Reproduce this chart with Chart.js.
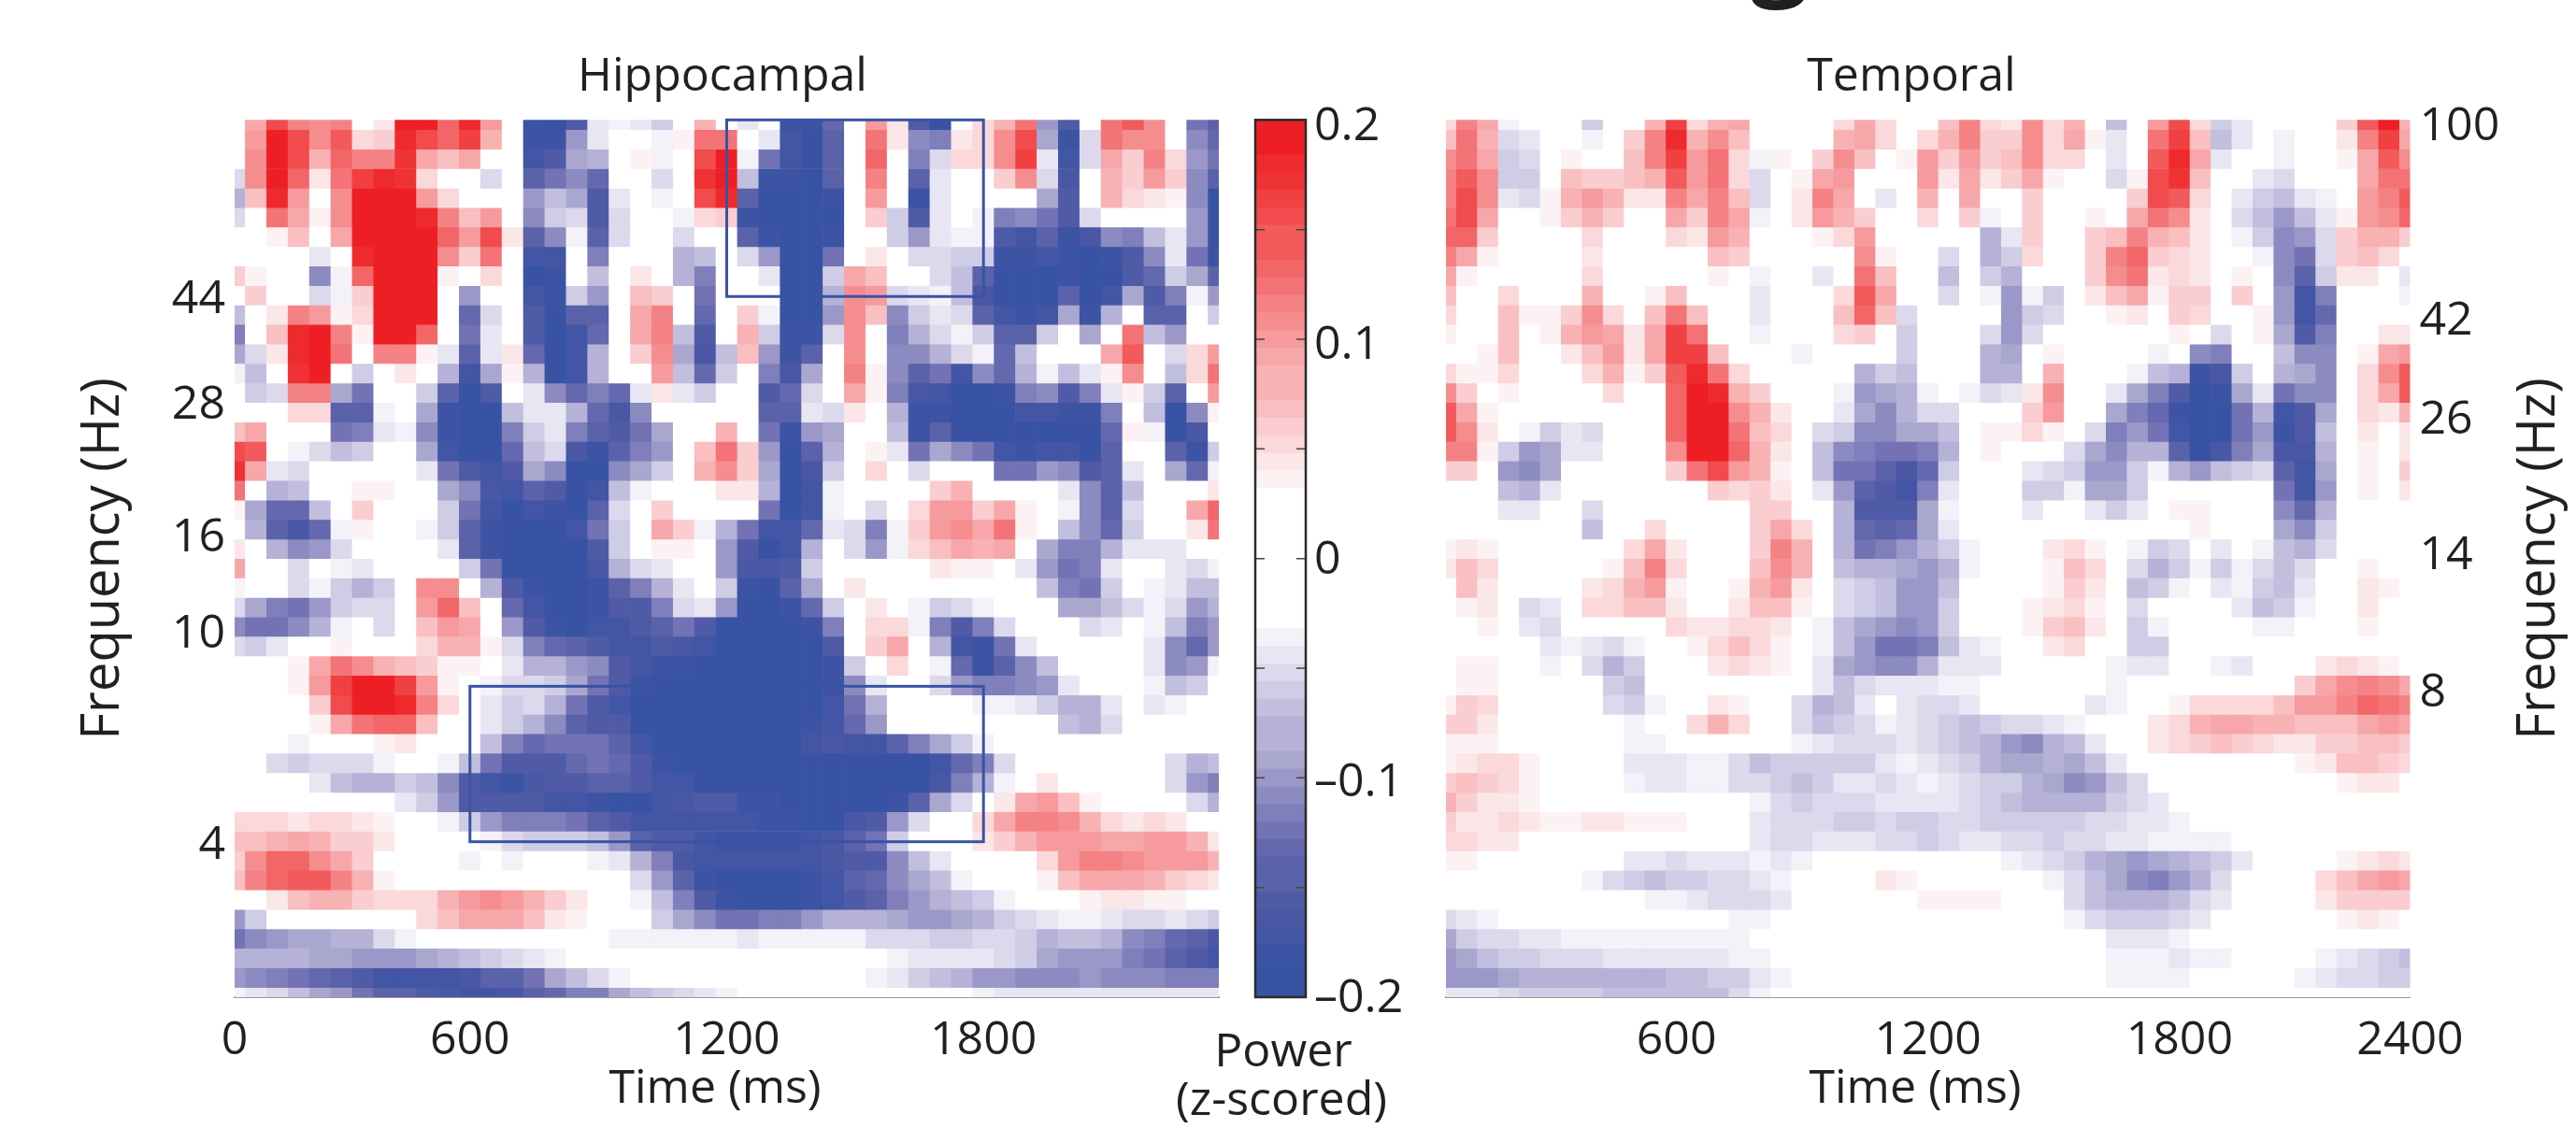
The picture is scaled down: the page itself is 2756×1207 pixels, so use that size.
<!DOCTYPE html>
<html><head><meta charset="utf-8">
<script src="https://cdn.jsdelivr.net/npm/chart.js@4/dist/chart.umd.min.js"></script>
<style>
html,body{margin:0;padding:0;background:#fff;width:2756px;height:1207px;overflow:hidden}
canvas{position:absolute;top:0}
#cut{position:absolute;left:1873px;top:-113px;font:bold 110px/110px "Open Sans";color:#231f20}
</style></head><body>
<div id="cut">g</div>
<canvas id="hip" width="1340" height="1207" style="left:0;width:1340px;height:1207px"></canvas>
<canvas id="tem" width="1256" height="1207" style="left:1500px;width:1256px;height:1207px"></canvas>
<canvas id="bar" width="290" height="1207" style="left:1240px;width:290px;height:1207px"></canvas>
<script>
// Time of each column (ms) and frequency of each row (Hz, top row first)
const timesMs = [50,100,150,200,250,300,350,400,450,500,550,600,650,700,750,800,850,900,950,1000,1050,1100,1150,1200,1250,1300,1350,1400,1450,1500,1550,1600,1650,1700,1750,1800,1850,1900,1950,2000,2050,2100,2150,2200,2250,2300,2350];
const frequenciesHz = [100,91.67,84.04,77.04,70.63,64.75,59.36,54.42,49.89,45.73,41.93,38.44,35.24,32.30,29.61,27.15,24.89,22.82,20.92,19.17,17.58,16.11,14.77,13.54,12.42,11.38,10.44,9.57,8.77,8.04,7.37,6.76,6.20,5.68,5.21,4.77,4.38,4.01,3.68,3.37,3.09,2.83,2.60,2.38,2.18,2.00];

// Power (z-scored x 100), top row first
const hippocampalPower = [
[0,9,16,12,11,12,0,4,20,20,14,19,10,0,-19,-20,-16,-4,-3,-4,-6,0,8,0,-4,0,-19,-19,-14,0,10,4,-16,-20,0,5,8,13,-10,-16,0,13,15,11,0,-13,-15],
[0,10,20,16,11,15,5,6,19,16,14,17,8,0,-19,-19,-10,-4,0,0,-3,3,13,13,0,-4,-18,-20,-15,0,13,4,-11,-12,4,5,11,16,-9,-19,-5,13,11,11,0,-11,-14],
[0,11,20,16,8,14,12,12,18,9,7,9,0,0,-18,-16,-9,-8,0,3,-3,0,16,20,-3,-13,-18,-20,-15,0,14,0,-12,-5,5,5,11,17,-4,-18,-5,9,6,12,5,-10,-13],
[-5,11,20,14,4,13,17,19,18,5,0,0,-5,0,-15,-13,-11,-14,0,0,-5,0,18,20,-7,-19,-19,-20,-15,0,12,0,-15,-4,0,0,6,11,-5,-17,0,8,6,10,6,-11,-15],
[-8,7,19,10,0,11,20,20,20,10,5,0,0,0,-10,-7,-9,-16,-4,0,-3,0,16,19,-15,-20,-20,-20,-19,0,10,0,-19,-4,0,0,0,0,-9,-16,0,8,5,4,3,-11,-20],
[-5,0,13,9,3,11,20,20,20,19,12,7,10,0,-11,-6,-5,-16,-5,0,0,-3,5,6,-19,-20,-20,-20,-20,0,6,-6,-16,-4,0,-3,-12,-11,-13,-16,-5,0,0,0,0,-10,-20],
[0,0,3,7,0,9,20,20,20,20,14,10,16,4,-15,-11,-3,-15,-5,0,0,-5,0,0,-15,-19,-20,-20,-19,0,0,-6,-10,-4,-3,-3,-16,-18,-15,-19,-17,-11,-12,-7,-4,-10,-20],
[0,0,0,0,-4,0,19,20,20,20,11,6,13,0,-18,-18,0,-12,0,0,0,-8,-7,0,-5,-10,-20,-20,-13,0,4,0,-5,-5,-6,-6,-19,-19,-18,-19,-20,-19,-16,-11,-4,-13,-19],
[6,3,0,0,-11,-3,14,20,20,20,3,0,5,0,-20,-19,0,-7,0,4,0,-8,-12,0,0,-4,-20,-20,-6,9,7,0,0,-5,-7,-15,-20,-20,-20,-19,-20,-20,-16,-14,-6,-9,-15],
[0,6,0,0,-5,-3,6,20,20,20,0,-10,0,0,-18,-19,-6,-10,0,7,6,0,-13,0,0,0,-20,-20,-8,11,10,-5,-4,-3,-7,-17,-20,-20,-20,-15,-20,-18,-9,-16,-12,-3,-10],
[-7,0,4,12,10,3,5,20,20,20,0,-14,-5,0,-16,-20,-15,-15,0,9,12,0,-14,0,6,-3,-20,-20,-10,11,7,-11,-6,-4,-5,-15,-18,-19,-18,-9,-19,-8,0,-15,-15,0,-6],
[-12,0,7,19,20,12,3,20,20,14,0,-13,-4,0,-16,-20,-18,-14,0,9,12,-7,-16,0,8,-6,-19,-19,-5,11,0,-12,-8,-5,-3,-6,-15,-15,-6,0,-9,0,13,-7,-10,0,0],
[-9,-5,4,19,20,13,0,12,12,3,-4,-15,-4,4,-14,-20,-18,-8,0,6,11,-9,-17,-7,7,-10,-19,-15,0,11,0,-11,-11,-8,-5,-3,-14,-7,0,0,0,9,15,0,-5,5,10],
[-3,-7,0,18,20,0,-6,0,4,0,-8,-18,-9,3,-8,-20,-18,-8,0,0,10,-7,-14,-6,0,-12,-17,-9,0,12,3,-11,-15,-13,-18,-11,-14,-8,-3,-7,-4,3,11,0,-7,5,13],
[0,-6,-5,12,12,-9,-13,0,0,-6,-15,-20,-16,0,-4,-11,-14,-12,-14,-4,4,-4,-6,0,0,-16,-14,-5,0,9,3,-12,-17,-18,-20,-20,-19,-12,-11,-16,-12,-4,3,-6,-15,0,10],
[0,0,0,5,5,-15,-15,-3,0,-9,-19,-20,-20,-7,-4,-4,-8,-14,-17,-11,0,0,0,0,0,-15,-15,-4,-5,4,0,-8,-19,-19,-20,-20,-20,-18,-18,-19,-19,-12,0,-7,-20,-11,3],
[7,9,0,0,0,-13,-12,-4,-3,-11,-19,-20,-20,-12,-6,-4,-12,-15,-16,-13,-9,0,0,8,0,-13,-19,-10,-9,0,0,-7,-19,-15,-20,-20,-20,-20,-20,-20,-20,-14,3,-3,-20,-17,0],
[16,15,0,-3,-5,-7,-6,0,0,-9,-18,-20,-20,-14,-7,-5,-17,-19,-15,-12,-10,0,7,13,6,-10,-20,-15,-8,0,3,-4,-13,-9,-11,-13,-18,-19,-18,-18,-20,-15,0,0,-15,-19,-6],
[18,9,-4,-5,0,0,0,0,0,-4,-13,-16,-18,-16,-9,-11,-20,-20,-11,-9,-6,0,8,11,6,-9,-20,-17,-6,0,5,0,-5,0,0,0,-13,-13,-10,-11,-16,-15,-4,0,-9,-14,-3],
[13,0,-8,-7,0,0,3,3,0,0,-9,-11,-17,-18,-15,-16,-20,-18,-7,-3,0,0,0,4,4,-8,-20,-18,-3,0,0,0,0,6,8,0,0,0,0,-4,-11,-15,-7,0,0,0,4],
[3,-9,-14,-14,-7,0,6,0,0,0,-6,-13,-18,-20,-18,-19,-20,-15,-5,0,6,0,0,0,0,-13,-20,-18,-3,0,-5,0,5,10,10,6,9,3,0,-3,-11,-15,-5,0,0,9,14],
[0,-8,-15,-17,-14,-3,3,0,0,-3,-6,-15,-19,-20,-20,-20,-18,-13,-6,0,9,6,-3,-8,-13,-18,-18,-14,-4,-5,-12,-3,6,10,11,9,13,3,0,-7,-11,-14,-6,0,0,4,13],
[4,0,-8,-11,-10,-5,0,0,0,0,-4,-15,-19,-20,-20,-20,-20,-16,-6,0,3,3,0,-10,-16,-20,-18,-8,0,-5,-10,-3,5,7,9,8,9,0,-9,-12,-12,-8,-4,-4,-4,0,0],
[9,0,0,-5,0,-3,-4,0,0,0,0,-6,-13,-20,-20,-20,-20,-17,-8,-5,-4,0,0,-10,-17,-17,-16,-6,0,0,0,0,0,4,3,3,0,-4,-10,-13,-12,-4,0,0,-4,-5,-3],
[3,0,0,-5,-3,-6,-8,-6,0,11,11,0,-8,-16,-19,-20,-20,-19,-15,-12,-8,-4,0,-6,-19,-20,-15,-9,0,4,0,0,0,0,0,0,0,0,-7,-12,-13,-6,0,-3,-4,-7,-7],
[-5,-9,-12,-13,-10,-6,-5,-5,0,10,14,7,0,-14,-18,-20,-20,-19,-16,-16,-12,-5,-4,-10,-20,-20,-19,-14,-6,0,4,0,-3,-6,-5,-3,0,0,0,-9,-9,-7,-5,-3,-5,-10,-8],
[-11,-13,-13,-11,-8,-3,0,-5,0,7,10,9,0,-10,-16,-19,-20,-18,-18,-16,-15,-13,-16,-20,-20,-20,-20,-19,-12,0,5,5,-3,-12,-16,-12,-5,0,0,0,-5,-4,0,-3,-7,-12,-10],
[-5,-6,-4,0,0,3,0,0,0,5,8,8,3,-5,-12,-14,-15,-16,-18,-18,-16,-17,-18,-20,-20,-20,-20,-20,-16,0,6,9,0,-8,-18,-19,-13,-4,0,0,0,0,0,-4,-11,-14,-10],
[0,0,0,3,9,13,11,8,7,6,3,3,0,-4,-8,-8,-10,-11,-16,-18,-19,-19,-20,-20,-20,-20,-20,-20,-19,-6,0,5,0,-3,-14,-19,-15,-11,-7,0,0,0,0,-4,-11,-10,-3],
[0,0,0,3,10,17,20,20,17,10,3,0,-3,-5,-5,-6,-9,-13,-16,-19,-20,-20,-20,-20,-20,-20,-20,-20,-19,-11,-4,0,0,-5,-10,-12,-12,-11,-10,-4,0,0,0,-3,-7,-6,0],
[0,0,0,0,6,16,20,20,19,12,5,0,-4,-6,-5,-8,-13,-16,-18,-20,-20,-20,-20,-20,-20,-20,-20,-20,-18,-13,-8,0,0,0,0,-3,-3,-4,-6,-8,-8,-4,0,-4,-3,0,0],
[0,0,0,0,3,9,13,14,14,7,0,0,-4,-6,-8,-11,-15,-16,-16,-20,-20,-20,-20,-20,-20,-20,-20,-19,-18,-14,-10,0,0,0,0,0,0,0,0,-7,-8,-5,0,0,0,0,0],
[0,0,0,-3,0,0,0,3,4,0,0,0,-7,-12,-14,-13,-13,-13,-15,-18,-20,-20,-20,-20,-20,-20,-20,-18,-17,-18,-18,-15,-12,-9,-6,-3,0,0,0,0,0,0,0,0,0,0,0],
[0,0,-5,-6,-5,-5,-5,-3,0,0,-3,-7,-13,-16,-16,-16,-14,-13,-14,-16,-19,-20,-20,-20,-20,-20,-20,-20,-20,-20,-20,-20,-20,-18,-14,-12,-5,0,0,0,0,0,0,0,-5,-8,-7],
[0,0,0,0,-4,-7,-8,-8,-6,-7,-11,-16,-18,-19,-17,-16,-16,-15,-15,-16,-18,-18,-20,-20,-20,-20,-20,-20,-20,-20,-20,-20,-20,-17,-12,-8,-3,0,4,0,0,0,0,0,-5,-10,-12],
[0,0,0,0,0,0,0,0,-4,-6,-10,-16,-16,-16,-16,-18,-18,-19,-20,-20,-18,-17,-16,-16,-19,-19,-20,-20,-20,-20,-20,-19,-15,-9,-5,0,4,9,10,7,3,0,0,0,0,-5,-8],
[5,5,5,4,5,5,4,3,0,0,-3,-6,-10,-12,-12,-12,-13,-15,-16,-18,-18,-18,-18,-18,-18,-19,-19,-20,-20,-17,-16,-10,-5,0,0,5,9,12,12,11,8,5,4,5,4,0,0],
[7,7,8,9,8,6,6,4,0,0,0,0,-3,-5,-6,-6,-6,-7,-10,-15,-16,-16,-18,-19,-19,-19,-19,-18,-17,-15,-13,-6,0,0,0,4,6,8,10,10,10,9,9,10,10,8,4],
[6,11,14,14,11,9,6,0,0,0,0,-3,0,-3,0,0,0,-3,-4,-8,-12,-17,-18,-18,-18,-18,-18,-18,-17,-16,-16,-11,-7,-4,0,0,0,0,5,10,12,12,11,10,10,10,8],
[7,12,14,15,15,12,8,3,0,0,0,0,0,0,0,0,0,0,0,-5,-10,-15,-19,-20,-20,-20,-20,-19,-18,-15,-14,-11,-9,-7,-3,0,0,0,3,7,9,9,9,8,6,5,4],
[0,0,4,7,8,8,6,5,5,5,8,10,11,10,8,6,4,0,0,-3,-7,-12,-16,-19,-20,-20,-20,-19,-18,-16,-15,-12,-10,-8,-7,-6,-3,0,0,0,3,4,4,3,3,0,0],
[-10,-6,0,0,0,0,0,0,0,5,7,9,9,9,7,4,3,0,0,0,-6,-9,-11,-13,-13,-12,-12,-10,-8,-8,-8,-9,-10,-10,-9,-8,-6,-5,-4,-3,-3,-4,-5,-5,-4,-5,-6],
[-13,-11,-10,-9,-9,-8,-8,-5,-3,0,0,0,0,0,0,0,0,0,-3,-3,-3,-3,-3,-3,-4,-3,-3,-3,-3,-3,-5,-5,-5,-6,-6,-5,-5,-6,-8,-7,-7,-8,-11,-12,-14,-15,-17],
[-8,-8,-8,-8,-9,-9,-10,-10,-10,-9,-8,-7,-6,-5,-4,-3,0,0,0,0,0,0,0,0,0,0,0,0,0,0,0,-3,-4,-4,-4,-4,-5,-6,-9,-10,-10,-10,-12,-13,-15,-16,-18],
[-10,-11,-12,-13,-14,-15,-16,-18,-18,-18,-18,-17,-15,-15,-13,-9,-7,-5,-3,0,0,0,0,0,0,0,0,0,0,0,-3,-4,-6,-7,-8,-10,-10,-11,-11,-11,-10,-11,-11,-11,-12,-12,-12],
[-3,-4,-5,-7,-9,-10,-13,-15,-15,-16,-17,-18,-18,-17,-15,-14,-12,-12,-9,-7,-6,-5,-4,-3,0,0,0,0,0,0,0,0,0,0,0,-3,-4,-4,-4,-4,-4,-4,-4,-4,-4,-4,-4]
];
const temporalPower = [
[5,12,9,-3,0,0,0,-6,0,0,8,17,5,8,9,0,0,0,0,5,9,5,0,0,7,12,5,4,11,5,8,0,-7,0,10,16,5,-6,-4,0,0,0,0,6,15,20,8],
[7,13,8,-5,-4,0,0,-3,0,6,12,19,8,11,7,0,0,0,0,8,9,5,0,5,8,12,6,6,11,5,9,3,-4,0,13,17,7,-7,-4,0,-3,0,0,4,12,17,9],
[11,13,9,-6,-5,0,3,0,0,7,12,17,10,13,5,-3,3,0,6,11,7,0,3,10,6,10,6,7,11,5,5,0,-4,0,15,19,9,-4,0,0,-3,0,0,3,9,15,11],
[12,15,11,-6,-6,0,7,6,6,7,8,15,10,13,5,-5,0,3,9,10,0,0,0,10,4,9,4,6,9,3,0,0,-5,3,16,18,7,0,0,-4,-5,0,0,0,9,13,13],
[12,16,11,-4,-5,3,8,10,8,4,4,12,9,12,7,-5,0,4,12,9,0,-4,0,8,0,9,0,0,6,0,0,0,0,6,16,15,5,0,-4,-6,-7,-4,-3,0,10,12,15],
[13,16,9,0,0,3,6,8,6,0,0,9,6,12,9,-3,0,4,10,8,6,0,0,5,0,6,-3,0,6,0,0,3,0,9,13,11,4,0,-5,-7,-10,-7,-4,3,10,11,14],
[14,14,6,0,0,0,0,5,0,0,0,5,4,10,8,0,0,0,3,5,10,0,0,0,0,0,-8,-4,6,0,0,6,7,12,8,7,4,0,-3,-6,-11,-10,-5,6,8,8,6],
[12,9,3,0,0,0,0,4,0,0,0,0,0,7,6,0,0,0,0,0,11,3,0,0,-5,0,-8,-6,5,0,0,6,12,14,6,5,4,0,0,-3,-11,-13,-5,6,7,5,0],
[9,3,0,0,0,0,0,5,0,0,0,0,0,3,0,-3,0,0,-4,0,13,7,0,0,-7,0,-6,-8,0,0,0,6,11,13,4,5,4,0,3,0,-11,-15,-6,4,4,0,-4],
[7,0,0,5,0,0,0,8,0,0,3,7,0,0,0,-4,0,0,0,5,15,9,0,0,-5,0,-3,-10,-3,-6,0,4,7,9,3,6,6,0,6,0,-10,-18,-12,0,0,0,-3],
[5,0,0,7,3,3,6,11,5,0,7,13,7,0,0,-4,0,0,0,7,14,7,-5,0,0,0,0,-10,-6,-5,0,0,3,4,0,6,5,0,0,3,-10,-18,-14,0,0,0,0],
[3,0,0,7,0,3,8,10,9,4,9,17,13,0,0,-3,0,0,0,5,6,0,-6,0,0,0,-5,-10,-5,0,0,0,0,0,0,3,0,-5,0,3,-9,-16,-12,0,0,4,4],
[0,0,3,7,0,0,4,7,10,4,9,17,17,7,0,0,0,-3,0,0,0,0,-6,0,0,0,-8,-9,0,3,0,0,0,0,-3,0,-11,-12,0,0,-7,-11,-11,0,3,9,10],
[5,3,3,5,0,0,0,5,8,3,6,15,19,13,5,0,0,0,0,0,-8,-6,-7,0,0,0,-8,-8,0,8,0,0,0,-3,-7,-8,-19,-17,-6,0,-8,-9,-11,0,5,11,15],
[11,6,0,3,0,0,0,0,5,0,0,14,20,19,8,6,0,0,0,-3,-10,-9,-8,-3,0,-3,-5,-4,4,11,0,0,-4,-9,-12,-16,-20,-19,-9,-4,-13,-11,-11,0,5,9,15],
[15,9,3,0,0,0,0,0,0,0,0,14,20,20,11,8,4,0,0,-4,-9,-11,-8,-5,-5,0,0,0,6,10,0,0,-9,-12,-14,-19,-20,-20,-13,-8,-18,-16,-9,0,5,4,8],
[15,11,4,0,-3,-6,-4,-5,0,0,0,14,20,20,13,7,5,0,-5,-6,-11,-11,-9,-9,-7,0,3,3,5,3,0,-5,-12,-10,-13,-18,-20,-20,-13,-10,-19,-16,-7,0,4,0,4],
[12,12,3,-6,-10,-9,-4,-4,0,0,0,11,20,20,14,8,4,0,-7,-11,-12,-13,-13,-12,-8,0,3,0,0,0,-5,-9,-11,-8,-8,-15,-20,-17,-12,-9,-17,-17,-8,0,3,0,4],
[6,6,0,-10,-11,-9,0,0,0,0,0,6,13,16,10,8,3,0,-7,-13,-13,-15,-17,-14,-6,0,0,0,-4,-5,-6,-10,-10,-6,-3,-8,-10,-7,-6,-5,-15,-18,-9,0,3,0,6],
[0,0,0,-7,-8,-4,0,0,0,0,0,0,0,6,5,6,4,0,-4,-10,-15,-16,-18,-12,-4,0,0,0,-6,-6,-3,-9,-9,-6,0,0,0,0,0,0,-13,-18,-10,0,3,0,4],
[0,0,0,-4,-4,0,0,-5,0,0,0,0,0,0,0,6,6,0,0,-8,-16,-16,-16,-9,-3,0,0,0,-4,0,0,-4,-6,-4,0,3,3,0,0,0,-11,-14,-8,0,0,0,0],
[0,0,0,0,0,0,0,-7,0,0,5,0,0,0,0,6,9,5,0,-8,-14,-15,-14,-9,-4,0,0,0,0,0,0,0,0,0,0,0,3,0,0,0,-9,-11,-6,0,0,0,0],
[3,4,3,0,0,0,0,0,0,5,9,4,0,0,0,6,12,8,0,-8,-13,-12,-10,-8,-6,-3,0,0,0,4,5,3,0,-3,-6,-5,0,-4,0,-3,-7,-8,-5,0,0,0,0],
[4,7,5,0,0,0,0,0,3,7,12,5,0,0,0,7,11,8,0,-7,-8,-8,-9,-10,-8,-3,0,0,0,3,7,5,0,-5,-8,-6,-3,-6,-3,-5,-7,-5,0,0,3,0,0],
[0,7,4,0,0,0,0,4,5,8,10,3,0,0,3,8,10,4,0,-5,-6,-7,-10,-10,-7,0,0,0,0,3,6,4,0,-7,-6,-3,0,-4,-3,-6,-7,-4,0,0,4,3,0],
[0,3,4,0,-5,-4,0,5,5,7,7,4,0,0,4,7,7,3,0,-5,-6,-7,-10,-10,-6,0,0,0,3,4,5,3,0,-5,0,0,0,0,-4,-7,-6,-3,0,0,4,0,0],
[0,0,3,0,-4,-5,0,0,0,0,0,5,4,4,5,5,4,0,-3,-7,-9,-10,-11,-10,-6,0,0,0,3,6,7,4,0,-6,-3,0,0,0,0,-3,-3,0,0,0,3,0,0],
[0,0,0,0,0,-4,-3,-4,-5,-3,0,0,3,5,7,5,3,0,-3,-7,-10,-13,-13,-12,-7,-4,-3,0,0,4,5,0,0,-6,-6,0,0,0,0,0,0,0,0,0,0,0,0],
[0,3,3,0,0,-3,0,-5,-8,-6,0,0,0,4,5,4,3,0,-4,-9,-10,-11,-11,-8,-4,-4,-4,0,0,0,0,0,-3,-4,-4,0,0,-3,-4,0,0,0,4,5,4,3,0],
[0,3,3,0,0,0,0,0,-6,-7,0,0,0,0,0,0,0,0,-4,-7,-5,-4,-4,-4,-3,-3,0,0,0,0,0,0,-3,0,0,0,0,0,0,0,0,6,9,11,12,11,9],
[3,6,5,0,0,0,0,0,-5,-6,-3,0,0,4,3,0,0,-5,-8,-7,-4,0,-4,-5,-5,-4,0,0,0,0,0,-4,-3,0,0,3,5,5,5,5,7,10,10,12,14,13,12],
[6,6,4,0,0,0,0,0,0,-3,0,0,5,8,5,0,0,-5,-7,-6,-5,-3,-4,-5,-6,-7,-6,-5,-5,-4,-3,0,0,0,4,5,8,9,9,8,8,7,7,7,9,10,9],
[3,3,3,0,0,0,0,0,0,-3,-3,0,0,0,0,0,0,-3,-4,-5,-5,-5,-4,-5,-6,-7,-8,-10,-11,-8,-7,-4,0,0,4,5,6,7,6,5,4,4,6,6,7,7,6],
[3,4,5,5,3,0,0,0,0,-4,-4,-4,-3,-3,-5,-7,-6,-6,-6,-6,-6,-4,-3,-4,-5,-6,-8,-9,-9,-8,-9,-7,-4,0,0,0,0,0,0,0,0,3,4,7,7,6,5],
[6,7,6,5,3,0,0,0,0,-3,-4,-4,-3,-3,-5,-5,-6,-7,-6,-4,-4,-5,-4,-3,-4,-5,-6,-6,-8,-9,-11,-10,-7,-5,0,0,0,0,0,0,0,0,0,3,4,4,0],
[8,6,4,4,3,0,0,0,0,0,0,0,0,0,0,-3,-5,-6,-5,-5,-5,-4,-4,-4,-4,-5,-6,-7,-8,-8,-8,-8,-6,-5,-4,0,0,0,0,0,0,0,0,0,0,0,0],
[6,4,4,5,4,3,3,4,4,3,3,3,0,0,0,-4,-5,-5,-5,-6,-6,-5,-6,-6,-5,-5,-6,-6,-6,-6,-6,-5,-5,-4,-4,-3,0,0,0,0,0,0,0,0,0,0,0],
[5,5,4,4,0,0,0,0,0,0,0,0,0,0,0,-4,-5,-5,-4,-4,-4,-5,-5,-6,-5,-4,-4,-5,-5,-6,-5,-5,-4,-4,-3,-3,-3,-3,0,0,0,0,0,0,0,0,0],
[3,3,0,0,0,0,0,0,0,-4,-4,-5,-4,-4,-4,-3,-4,-3,0,0,0,0,0,0,0,0,0,-3,-4,-5,-6,-8,-9,-10,-9,-8,-7,-6,-4,0,0,0,0,3,4,5,4],
[0,0,0,0,0,0,0,-3,-5,-6,-7,-6,-6,-5,-5,-4,-3,0,0,0,0,4,3,0,0,0,0,0,0,-3,-5,-7,-9,-11,-12,-10,-8,-5,0,0,0,0,5,7,9,10,9],
[0,0,0,0,0,0,0,0,0,0,-3,-3,-4,-5,-5,-5,-4,0,0,0,0,0,0,3,3,3,3,0,0,0,-5,-7,-8,-8,-8,-7,-5,-4,0,0,0,0,4,6,6,6,6],
[-5,-4,-3,0,0,0,0,0,0,0,0,0,0,0,-3,-3,0,0,0,0,0,0,0,0,0,0,0,0,0,0,-3,-5,-6,-6,-6,-5,-4,0,0,0,0,0,0,3,4,3,0],
[-9,-6,-5,-5,-4,-4,-3,-3,-3,-3,-3,-3,-3,-3,-3,0,0,0,0,0,0,0,0,0,0,0,0,0,0,0,0,0,-4,-4,-4,-3,0,0,0,0,0,0,0,0,0,0,0],
[-10,-9,-7,-6,-6,-5,-5,-5,-4,-4,-4,-4,-4,-4,-3,-3,0,0,0,0,0,0,0,0,0,0,0,0,0,0,0,0,-3,-3,-3,-4,-3,-3,0,0,0,0,-3,-4,-5,-6,-7],
[-10,-10,-10,-9,-8,-8,-8,-8,-8,-8,-8,-7,-7,-6,-6,-4,-3,0,0,0,0,0,0,0,0,0,0,0,0,0,0,0,-3,-3,-3,-3,0,0,0,0,0,-3,-4,-5,-5,-6,-6],
[-4,-4,-4,-5,-6,-6,-6,-6,-7,-7,-7,-7,-7,-7,-5,-3,0,0,0,0,0,0,0,0,0,0,0,0,0,0,0,0,0,0,0,0,0,0,0,0,0,0,0,0,0,0,0]
];

// Axis ticks
const hipTimeTicks = [50,600,1200,1800];
const hipTimeLabels = ['0','600','1200','1800'];
const temTimeTicks = [600,1200,1800,2350];
const temTimeLabels = ['600','1200','1800','2400'];
const hipFreqTicks = [44,28,16,10,4];
const temFreqTicks = [100,42,26,14,8];
const powerTicks = [0.2,0.1,0,-0.1,-0.2];
const powerMarks = [0.15,0.1,0.05,0,-0.05,-0.1,-0.15];
const hipBoxes = [{t0:1200,t1:1800,f0:45.5,f1:100},{t0:600,t1:1800,f0:4,f1:8}];

// Colour ramps
const redRamp = ['#ffffff','#ffffff','#ffffff','#fdf2f3','#fbe6e8','#fbd8da','#facdd0','#f9bfc1','#f8b2b4','#f7a7aa','#f69a9d','#f58d8f','#f48284','#f37376','#f26668','#f25a5c','#f14b4d','#f04042','#ef3335','#ef2a2c','#ee1f24'];
const blueRamp = ['#ffffff','#ffffff','#ffffff','#f3f2f9','#e8e6f3','#dcd9ec','#cfcce5','#c2bedd','#b5b1d7','#aaa7cf','#9b98c9','#8b8bc1','#7f7fbb','#7272b4','#6468ae','#5a62a9','#4f5ba6','#4957a5','#4356a5','#3d54a4','#3853a4'];
const cellColor = v => (v < 0 ? blueRamp : redRamp)[Math.min(20, Math.abs(v))];

const FONT = '"Open Sans"';
const INK = '#231f20';
const FS = 50;

const pageText = {
  id: 'pageText',
  afterDraw(chart, args, opts) {
    const c = chart.ctx;
    c.save();
    c.fillStyle = INK;
    c.textAlign = 'center';
    c.textBaseline = 'alphabetic';
    for (const t of opts.items || []) {
      c.save();
      c.font = (t.size || FS) + 'px ' + FONT;
      c.translate(t.x, t.y);
      if (t.rotate) c.rotate(-Math.PI / 2);
      c.fillText(t.text, 0, 0);
      c.restore();
    }
    c.restore();
  }
};
const boxes = {
  id: 'boxes',
  afterDatasetsDraw(chart, args, opts) {
    const c = chart.ctx, X = chart.scales.x, Y = chart.scales.y;
    c.save();
    c.strokeStyle = '#3853a4';
    c.lineWidth = 3;
    for (const b of opts.list || []) {
      const x0 = X.getPixelForValue(b.t0), x1 = X.getPixelForValue(b.t1);
      const y0 = Y.getPixelForValue(b.f1), y1 = Y.getPixelForValue(b.f0);
      c.strokeRect(x0, y0, x1 - x0, y1 - y0);
    }
    c.restore();
  }
};
const barFrame = {
  id: 'barFrame',
  afterDatasetsDraw(chart) {
    const c = chart.ctx, a = chart.chartArea, Y = chart.scales.y;
    c.save();
    c.strokeStyle = '#444';
    c.lineWidth = 1.5;
    for (const m of powerMarks) {
      const p = Y.getPixelForValue(m);
      c.beginPath();
      c.moveTo(a.left, p); c.lineTo(a.left + 10, p);
      c.moveTo(a.right - 10, p); c.lineTo(a.right, p);
      c.stroke();
    }
    c.strokeStyle = '#2a2a2a';
    c.lineWidth = 2.5;
    c.strokeRect(a.left, a.top, a.right - a.left, a.bottom - a.top);
    c.restore();
  }
};
// Small vertical nudges of the y tick labels (px), as they sit in the figure
const nudgeTicks = {
  id: 'nudgeTicks',
  beforeDraw(chart, args, opts) {
    const items = chart.scales.y.getLabelItems();
    if (chart.$nudged) return;
    chart.$nudged = true;
    items.forEach((it, i) => { it.options.translation[1] += (opts.dy || [])[i] || 0; });
  }
};

function edges(r) {
  const f = frequenciesHz[r];
  const hi = r > 0 ? Math.sqrt(f * frequenciesHz[r - 1]) : f * 1.0445;
  const lo = r < frequenciesHz.length - 1 ? Math.sqrt(f * frequenciesHz[r + 1]) : f / 1.0445;
  return [lo, hi];
}
function heatDatasets(rows) {
  return rows.map((row, r) => ({
    data: row.map((v, i) => ({ x: timesMs[i], y: edges(r) })),
    backgroundColor: row.map(cellColor),
    borderWidth: 0, grouped: false, barPercentage: 1, categoryPercentage: 1
  }));
}
function heatChart(id, rows, o) {
  return new Chart(document.getElementById(id), {
    type: 'bar',
    data: { datasets: heatDatasets(rows) },
    plugins: [nudgeTicks, pageText, boxes],
    options: {
      responsive: false, animation: false, events: [],
      layout: { autoPadding: false, padding: o.padding },
      plugins: { legend: { display: false }, tooltip: { enabled: false },
        nudgeTicks: { dy: o.nudge },
        pageText: { items: o.text }, boxes: { list: o.boxes || [] } },
      scales: {
        x: {
          type: 'linear', min: 50, max: 2350, offset: false,
          grid: { display: false, drawTicks: false, offset: false },
          border: { color: '#9a9a9a', width: 2 },
          afterFit: s => { s.height = 140; },
          afterBuildTicks: s => { s.ticks = o.timeTicks.map(v => ({ value: v })); },
          ticks: { autoSkip: false, maxRotation: 0, padding: 17, color: INK,
            font: { family: FONT, size: FS },
            callback: v => o.timeLabels[o.timeTicks.indexOf(v)] }
        },
        y: {
          type: 'logarithmic', min: 2, max: 100, position: o.ySide,
          grid: { display: false, drawTicks: false },
          border: { display: false },
          afterFit: s => { s.width = o.yWidth; },
          afterBuildTicks: s => { s.ticks = o.freqTicks.map(v => ({ value: v })); },
          ticks: { autoSkip: false, padding: 10, color: INK,
            font: { family: FONT, size: FS }, callback: v => String(v) }
        }
      }
    }
  });
}
document.fonts.load('50px "Open Sans"').finally(() => {
  heatChart('hip', hippocampalPower, {
    padding: { top: 128.3, right: 36 }, ySide: 'left', yWidth: 251,
    timeTicks: hipTimeTicks, timeLabels: hipTimeLabels, freqTicks: hipFreqTicks, boxes: hipBoxes,
    nudge: [-5, 0, 8, -2, 4],
    text: [{ text: 'Hippocampal', x: 773, y: 97 }, { text: 'Time (ms)', x: 765, y: 1180 },
           { text: 'Frequency (Hz)', x: 127, y: 598, rotate: true, size: 56 }]
  });
  heatChart('tem', temporalPower, {
    padding: { top: 128.3, left: 47 }, ySide: 'right', yWidth: 177.5,
    timeTicks: temTimeTicks, timeLabels: temTimeLabels, freqTicks: temFreqTicks,
    nudge: [7, 7, -2, -5, 7],
    text: [{ text: 'Temporal', x: 545, y: 97 }, { text: 'Time (ms)', x: 549, y: 1180 },
           { text: 'Frequency (Hz)', x: 1233, y: 598, rotate: true, size: 56 }]
  });
  const bandCount = 50;
  const bandSets = [];
  for (let i = 0; i < bandCount; i++) {
    const lo = -0.2 + 0.4 * i / bandCount, hi = lo + 0.4 / bandCount;
    const inner = Math.min(Math.abs(lo), Math.abs(hi)) * 100;
    const level = Math.min(20, Math.round(1.1 * inner - 0.4));
    bandSets.push({ data: [[lo, hi]], backgroundColor: (lo < 0 ? blueRamp : redRamp)[level],
      borderWidth: 0, grouped: false, barPercentage: 1, categoryPercentage: 1 });
  }
  new Chart(document.getElementById('bar'), {
    type: 'bar',
    data: { labels: ['Power'], datasets: bandSets },
    plugins: [nudgeTicks, pageText, barFrame],
    options: {
      responsive: false, animation: false, events: [],
      layout: { autoPadding: false, padding: { top: 128.3, left: 103, bottom: 140 } },
      plugins: { legend: { display: false }, tooltip: { enabled: false },
        nudgeTicks: { dy: [7, 7, 2, 5, 2] },
        pageText: { items: [{ text: 'Power', x: 133, y: 1141 }, { text: '(z-scored)', x: 131, y: 1193 }] } },
      scales: {
        x: { display: false },
        y: {
          min: -0.2, max: 0.2, position: 'right',
          grid: { display: false, drawTicks: false },
          border: { display: false },
          afterFit: s => { s.width = 133; },
          afterBuildTicks: s => { s.ticks = powerTicks.map(v => ({ value: v })); },
          ticks: { autoSkip: false, padding: 9, color: INK, font: { family: FONT, size: FS },
            callback: v => v < 0 ? '\u2013' + Math.abs(v) : String(v) }
        }
      }
    }
  });
});
</script>
</body></html>
